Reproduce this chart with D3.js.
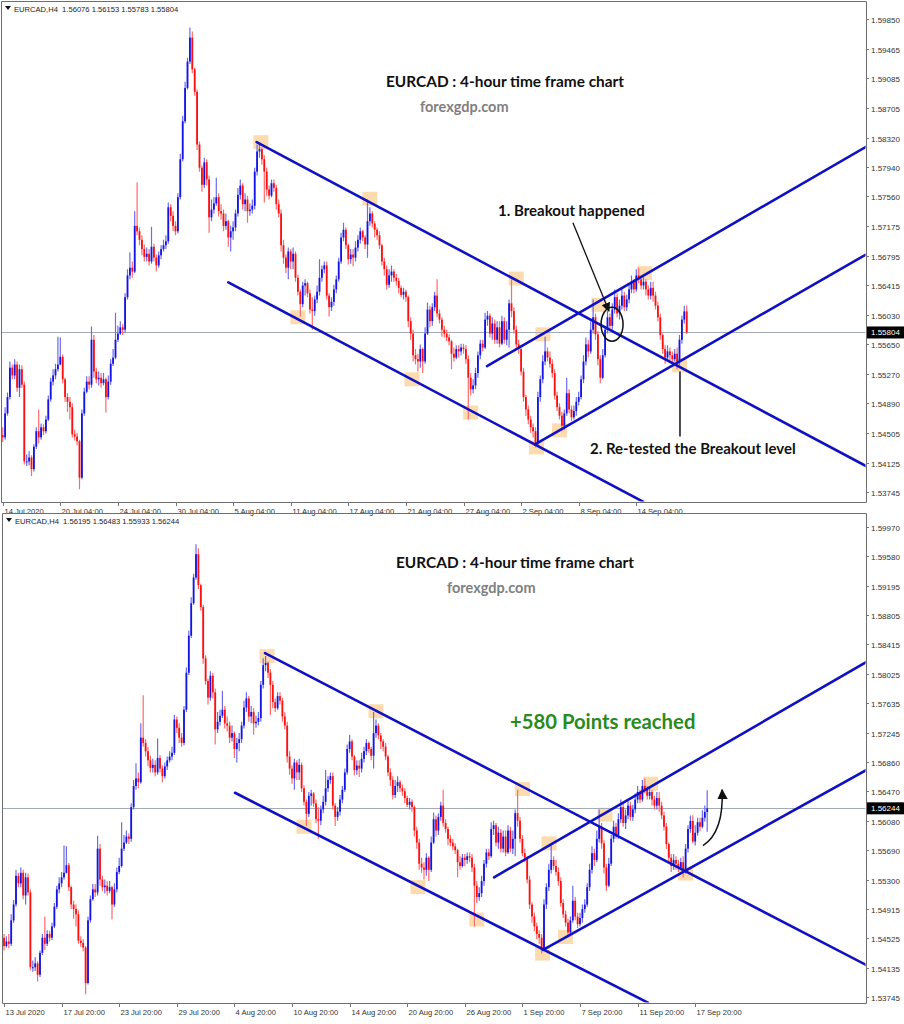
<!DOCTYPE html>
<html><head><meta charset="utf-8">
<script src="https://cdn.jsdelivr.net/npm/d3@7"></script>
<style>body{margin:0;background:#fff;} svg{display:block;}</style>
</head><body>
<svg id="c" width="904" height="1024"></svg>
<script>
// ---------- DATA (EURCAD H4, bar 0 = 13 Jul 2020 20:00) ----------
const firstOpen = 1.5453;
const closes = [
1.5442,1.5448,1.5445,1.5476,1.5497,1.5535,1.5525,1.5539,1.5509,1.5533,
1.5513,1.5414,1.5414,1.5419,1.5404,1.5433,1.5453,1.5445,1.5458,1.5453,
1.5468,1.5494,1.5517,1.5525,1.5533,1.5539,1.5549,1.5520,1.5497,1.5491,
1.5484,1.5449,1.5446,1.5440,1.5393,1.5476,1.5504,1.5517,1.5513,1.5571,
1.5530,1.5520,1.5522,1.5515,1.5520,1.5497,1.5517,1.5540,1.5548,1.5571,
1.5579,1.5587,1.5584,1.5626,1.5654,1.5664,1.5659,1.5718,1.5711,1.5700,
1.5688,1.5678,1.5682,1.5672,1.5691,1.5677,1.5667,1.5680,1.5688,1.5693,
1.5698,1.5742,1.5731,1.5718,1.5711,1.5755,1.5804,1.5853,1.5896,1.5930,
1.5961,1.5920,1.5891,1.5823,1.5793,1.5771,1.5800,1.5778,1.5729,1.5739,
1.5747,1.5755,1.5737,1.5734,1.5718,1.5724,1.5703,1.5711,1.5716,1.5734,
1.5758,1.5770,1.5746,1.5752,1.5737,1.5739,1.5744,1.5788,1.5814,1.5817,
1.5804,1.5788,1.5765,1.5757,1.5773,1.5767,1.5746,1.5734,1.5693,1.5677,
1.5664,1.5685,1.5672,1.5682,1.5651,1.5633,1.5617,1.5641,1.5644,1.5631,
1.5610,1.5608,1.5623,1.5633,1.5651,1.5662,1.5667,1.5628,1.5613,1.5620,
1.5636,1.5649,1.5672,1.5703,1.5713,1.5693,1.5675,1.5681,1.5677,1.5690,
1.5700,1.5711,1.5703,1.5694,1.5724,1.5734,1.5721,1.5713,1.5706,1.5693,
1.5672,1.5662,1.5642,1.5654,1.5659,1.5651,1.5647,1.5638,1.5629,1.5633,
1.5626,1.5595,1.5579,1.5551,1.5546,1.5543,1.5559,1.5543,1.5579,1.5610,
1.5595,1.5613,1.5628,1.5605,1.5597,1.5584,1.5579,1.5574,1.5569,1.5553,
1.5548,1.5559,1.5556,1.5561,1.5559,1.5546,1.5522,1.5507,1.5512,1.5528,
1.5551,1.5566,1.5561,1.5597,1.5602,1.5579,1.5592,1.5571,1.5587,1.5566,
1.5595,1.5571,1.5584,1.5618,1.5608,1.5584,1.5565,1.5559,1.5530,1.5497,
1.5481,1.5468,1.5458,1.5453,1.5437,1.5497,1.5520,1.5543,1.5556,1.5548,
1.5540,1.5528,1.5499,1.5484,1.5473,1.5460,1.5476,1.5502,1.5481,1.5471,
1.5479,1.5491,1.5497,1.5520,1.5543,1.5565,1.5556,1.5584,1.5600,1.5578,
1.5546,1.5522,1.5551,1.5584,1.5600,1.5589,1.5610,1.5626,1.5605,1.5615,
1.5628,1.5613,1.5623,1.5636,1.5646,1.5636,1.5654,1.5649,1.5641,1.5646,
1.5636,1.5628,1.5638,1.5628,1.5615,1.5600,1.5577,1.5559,1.5548,1.5556,
1.5551,1.5546,1.5553,1.5543,1.5571,1.5597,1.56076,1.55804,1.5592,1.5606,
1.5600,1.5612,1.56195,1.56244];
const highs = [
1.5458,1.5455,1.5458,1.5484,1.5503,1.5543,1.5539,1.5546,1.5543,1.5539,
1.5538,1.5517,1.5423,1.5427,1.5422,1.5436,1.5458,1.5481,1.5463,1.5462,
1.5473,1.5499,1.5522,1.5533,1.5540,1.5575,1.5574,1.5552,1.5522,1.5502,
1.5497,1.5489,1.5455,1.5451,1.5442,1.5481,1.5509,1.5524,1.5524,1.5588,
1.5577,1.5535,1.5530,1.5528,1.5528,1.5522,1.5525,1.5546,1.5559,1.5606,
1.5589,1.5595,1.5591,1.5631,1.5662,1.5684,1.5672,1.5737,1.5774,1.5716,
1.5706,1.5694,1.5690,1.5688,1.5717,1.5695,1.5681,1.5685,1.5693,1.5700,
1.5706,1.5748,1.5746,1.5737,1.5724,1.5760,1.5811,1.5860,1.5904,1.5935,
1.5974,1.5969,1.5922,1.5894,1.5827,1.5796,1.5806,1.5804,1.5783,1.5752,
1.5755,1.5780,1.5760,1.5746,1.5739,1.5734,1.5726,1.5718,1.5724,1.5739,
1.5767,1.5778,1.5773,1.5760,1.5757,1.5747,1.5752,1.5793,1.5823,1.5826,
1.5819,1.5809,1.5793,1.5770,1.5778,1.5778,1.5771,1.5752,1.5739,1.5700,
1.5681,1.5690,1.5688,1.5690,1.5685,1.5655,1.5636,1.5646,1.5649,1.5646,
1.5636,1.5626,1.5628,1.5641,1.5675,1.5667,1.5672,1.5672,1.5631,1.5626,
1.5642,1.5654,1.5677,1.5709,1.5722,1.5716,1.5695,1.5688,1.5688,1.5698,
1.5706,1.5716,1.5713,1.5706,1.5752,1.5742,1.5737,1.5724,1.5716,1.5711,
1.5695,1.5677,1.5667,1.5662,1.5667,1.5662,1.5656,1.5651,1.5641,1.5638,
1.5636,1.5628,1.5600,1.5584,1.5559,1.5553,1.5565,1.5561,1.5587,1.5619,
1.5615,1.5618,1.5633,1.5649,1.5610,1.5600,1.5589,1.5584,1.5578,1.5571,
1.5561,1.5564,1.5564,1.5566,1.5566,1.5564,1.5551,1.5528,1.5520,1.5535,
1.5556,1.5571,1.5571,1.5606,1.5608,1.5605,1.5600,1.5597,1.5595,1.5595,
1.5602,1.5600,1.5595,1.5623,1.5649,1.5613,1.5589,1.5571,1.5561,1.5535,
1.5500,1.5486,1.5473,1.5463,1.5458,1.5504,1.5525,1.5551,1.5575,1.5561,
1.5556,1.5546,1.5533,1.5504,1.5489,1.5478,1.5481,1.5522,1.5507,1.5486,
1.5486,1.5497,1.5504,1.5525,1.5551,1.5574,1.5571,1.5595,1.5623,1.5605,
1.5582,1.5551,1.5559,1.5589,1.5608,1.5605,1.5618,1.5636,1.5631,1.5623,
1.5636,1.5633,1.5629,1.5644,1.5654,1.5649,1.5662,1.5664,1.5654,1.5654,
1.5649,1.5641,1.5646,1.5646,1.5633,1.5620,1.5605,1.5579,1.5564,1.5564,
1.5561,1.5556,1.5559,1.5561,1.5577,1.5602,1.5615,1.56153,1.5602,1.5612,
1.5612,1.5622,1.5628,1.56483];
const lows = [
1.5436,1.5440,1.5439,1.5442,1.5473,1.5494,1.5520,1.5520,1.5504,1.5497,
1.5509,1.5410,1.5408,1.5409,1.5395,1.5401,1.5430,1.5437,1.5442,1.5448,
1.5450,1.5466,1.5491,1.5512,1.5520,1.5530,1.5538,1.5515,1.5491,1.5478,
1.5468,1.5445,1.5441,1.5435,1.5378,1.5391,1.5473,1.5502,1.5507,1.5509,
1.5522,1.5515,1.5512,1.5509,1.5512,1.5477,1.5494,1.5513,1.5537,1.5546,
1.5568,1.5577,1.5577,1.5580,1.5623,1.5649,1.5651,1.5657,1.5706,1.5693,
1.5680,1.5672,1.5672,1.5667,1.5669,1.5672,1.5659,1.5664,1.5675,1.5685,
1.5688,1.5695,1.5724,1.5711,1.5706,1.5708,1.5752,1.5801,1.5850,1.5894,
1.5927,1.5915,1.5886,1.5816,1.5788,1.5762,1.5767,1.5770,1.5709,1.5724,
1.5734,1.5744,1.5730,1.5726,1.5711,1.5713,1.5691,1.5685,1.5700,1.5711,
1.5730,1.5752,1.5739,1.5737,1.5722,1.5731,1.5734,1.5739,1.5783,1.5806,
1.5797,1.5748,1.5757,1.5752,1.5755,1.5762,1.5739,1.5729,1.5685,1.5669,
1.5657,1.5649,1.5662,1.5662,1.5646,1.5628,1.5601,1.5613,1.5628,1.5626,
1.5605,1.5584,1.5602,1.5618,1.5628,1.5646,1.5657,1.5623,1.5601,1.5608,
1.5615,1.5631,1.5646,1.5669,1.5698,1.5688,1.5668,1.5669,1.5666,1.5672,
1.5685,1.5695,1.5698,1.5688,1.5677,1.5718,1.5716,1.5703,1.5700,1.5688,
1.5667,1.5654,1.5636,1.5638,1.5646,1.5646,1.5641,1.5631,1.5626,1.5623,
1.5620,1.5587,1.5571,1.5543,1.5539,1.5530,1.5535,1.5528,1.5540,1.5577,
1.5587,1.5589,1.5608,1.5600,1.5592,1.5575,1.5574,1.5569,1.5564,1.5533,
1.5543,1.5546,1.5548,1.5551,1.5553,1.5540,1.5468,1.5499,1.5502,1.5507,
1.5522,1.5546,1.5556,1.5559,1.5589,1.5574,1.5571,1.5566,1.5566,1.5561,
1.5564,1.5566,1.5564,1.5561,1.5600,1.5579,1.5561,1.5553,1.5525,1.5491,
1.5473,1.5462,1.5451,1.5445,1.5432,1.5435,1.5491,1.5515,1.5538,1.5543,
1.5535,1.5522,1.5494,1.5479,1.5468,1.5453,1.5455,1.5473,1.5476,1.5466,
1.5468,1.5473,1.5486,1.5494,1.5515,1.5538,1.5548,1.5553,1.5579,1.5571,
1.5538,1.5515,1.5520,1.5548,1.5579,1.5584,1.5584,1.5605,1.5600,1.5597,
1.5610,1.5608,1.5608,1.5618,1.5631,1.5631,1.5633,1.5644,1.5636,1.5636,
1.5628,1.5623,1.5623,1.5620,1.5610,1.5595,1.5571,1.5553,1.5540,1.5543,
1.5543,1.5540,1.5543,1.5533,1.5538,1.5566,1.5592,1.55783,1.5575,1.5588,
1.5594,1.5598,1.5607,1.55933];

const topPriceTicks = [1.59850,1.59465,1.59085,1.58705,1.58320,1.57940,1.57560,1.57175,1.56795,1.56415,1.56030,1.55650,1.55270,1.54890,1.54505,1.54125,1.53745];
const bottomPriceTicks = [1.59970,1.59580,1.59195,1.58805,1.58415,1.58025,1.57635,1.57245,1.56860,1.56470,1.56080,1.55690,1.55300,1.54915,1.54525,1.54135,1.53745];
const topDateLabels = ["14 Jul 2020","20 Jul 04:00","24 Jul 04:00","30 Jul 04:00","5 Aug 04:00","11 Aug 04:00","17 Aug 04:00","21 Aug 04:00","27 Aug 04:00","2 Sep 04:00","8 Sep 04:00","14 Sep 04:00"];
const topDateBars = [2,26,50,74,98,122,146,170,194,218,242,266];
const bottomDateLabels = ["13 Jul 2020","17 Jul 20:00","23 Jul 20:00","29 Jul 20:00","4 Aug 20:00","10 Aug 20:00","14 Aug 20:00","20 Aug 20:00","26 Aug 20:00","1 Sep 20:00","7 Sep 20:00","11 Sep 20:00","17 Sep 20:00"];
const bottomDateBars = [0,24,48,72,96,120,144,168,192,216,240,264,288];

// trend lines: [bar1, price1, bar2, price2]
const topLines = [[107.8,1.5826,361.7,1.5408],[96.0,1.5645,268.8,1.5362],[203.8,1.5537,361.7,1.5820],[223.8,1.5436,361.7,1.5681]];
const bottomLines = [[108.75,1.5830,359.2,1.5417],[96.25,1.5645,268.3,1.5367],[204.2,1.5533,359.2,1.5818],[224.6,1.5437,359.2,1.5675]];
// highlighted touch points [bar, price]
const touchPoints = [[109.6,1.5826],[125.0,1.5600],[155.0,1.5753],[172.5,1.5520],[197.0,1.5477],[216.0,1.5650],[227.1,1.5578],[224.4,1.5432],[234.0,1.5454],[250.4,1.5616],[269.4,1.5657],[284.0,1.5538]];

// ---------- DRAW ----------
const svg = d3.select('#c');
const defs = svg.append('defs');
defs.append('marker').attr('id','ah').attr('viewBox','0 0 10 10').attr('refX',9).attr('refY',5)
  .attr('markerWidth',7).attr('markerHeight',7).attr('orient','auto-start-reverse')
  .append('path').attr('d','M0,0 L10,5 L0,10 z').attr('fill','#111');

const panels = [
  {id:'top', x0:1, y0:1, x1:866, y1:502, kFrom:2, kTo:287,
   x:d3.scaleLinear().domain([0,100]).range([-2.1,237.9]),
   y:d3.scaleLinear().domain([1.59850,1.53745]).range([19,492]),
   priceTicks:topPriceTicks, dateLabels:topDateLabels, dateBars:topDateBars, lines:topLines,
   header:'EURCAD,H4  1.56076 1.56153 1.55783 1.55804', last:1.55804},
  {id:'bot', x0:2, y0:513, x1:866, y1:1003, kFrom:0, kTo:293,
   x:d3.scaleLinear().domain([0,100]).range([4,244]),
   y:d3.scaleLinear().domain([1.59970,1.53745]).range([527,997]),
   priceTicks:bottomPriceTicks, dateLabels:bottomDateLabels, dateBars:bottomDateBars, lines:bottomLines,
   header:'EURCAD,H4  1.56195 1.56483 1.55933 1.56244', last:1.56244}
];

const fmt = d3.format('.5f');
const axisFont = 'Liberation Sans, Arial, sans-serif';
const noteFont = 'Lato, Open Sans, sans-serif';

panels.forEach(P => {
  const g = svg.append('g');
  defs.append('clipPath').attr('id','clip-'+P.id).append('rect')
    .attr('x',P.x0+0.5).attr('y',P.y0+0.5).attr('width',P.x1-P.x0-1).attr('height',P.y1-P.y0-1);
  const plot = g.append('g').attr('clip-path','url(#clip-'+P.id+')');

  // touch highlights
  plot.selectAll('rect.tp').data(touchPoints).join('rect').attr('class','tp')
    .attr('x',d=>P.x(d[0])-7.5).attr('y',d=>P.y(d[1])-7).attr('width',15).attr('height',14)
    .attr('fill','#fbd29b').attr('opacity',0.8);

  // current price line
  plot.append('line').attr('x1',P.x0).attr('x2',P.x1).attr('y1',Math.round(P.y(P.last))+0.5).attr('y2',Math.round(P.y(P.last))+0.5)
    .attr('stroke','#a3abb8').attr('stroke-width',1);

  // candles
  const bars = d3.range(P.kFrom, P.kTo+1).map(k => {
    const o = k===0 ? firstOpen : closes[k-1], c = closes[k];
    return {k, o, c, h:Math.max(highs[k],o,c), l:Math.min(lows[k],o,c)};
  });
  const cg = plot.append('g');
  cg.selectAll('line').data(bars).join('line')
    .attr('x1',d=>P.x(d.k)).attr('x2',d=>P.x(d.k))
    .attr('y1',d=>P.y(d.h)).attr('y2',d=>P.y(d.l))
    .attr('stroke',d=>d.c>=d.o?'#6b6bf0':'#ff6a6a').attr('stroke-width',1.2);
  cg.selectAll('rect').data(bars).join('rect')
    .attr('x',d=>P.x(d.k)-0.9).attr('width',1.8)
    .attr('y',d=>P.y(Math.max(d.o,d.c)))
    .attr('height',d=>Math.max(1,Math.abs(P.y(d.o)-P.y(d.c))))
    .attr('fill',d=>d.c>=d.o?'#1414e6':'#ff1010');

  // trend lines
  plot.selectAll('line.tl').data(P.lines).join('line').attr('class','tl')
    .attr('x1',d=>P.x(d[0])).attr('y1',d=>P.y(d[1])).attr('x2',d=>P.x(d[2])).attr('y2',d=>P.y(d[3]))
    .attr('stroke','#1111c4').attr('stroke-width',2.6).attr('stroke-linecap','round');

  // frame
  g.append('path').attr('d',`M${P.x0+0.5},${P.y0+0.5}H${P.x1+0.5}V${P.y1+0.5}H${P.x0+0.5}Z`)
    .attr('fill','none').attr('stroke','#6e6e6e').attr('stroke-width',1);

  // price axis
  const pa = g.append('g');
  P.priceTicks.forEach(t => {
    const yy = Math.round(P.y(t))+0.5;
    pa.append('line').attr('x1',P.x1).attr('x2',P.x1+3).attr('y1',yy).attr('y2',yy).attr('stroke','#777');
    pa.append('text').attr('x',P.x1+5).attr('y',yy+3).text(fmt(t))
      .attr('font-family',axisFont).attr('font-size',8).attr('fill','#333');
  });
  const ly = P.y(P.last);
  pa.append('rect').attr('x',P.x1+1).attr('y',ly-6).attr('width',37).attr('height',12).attr('fill','#000');
  pa.append('text').attr('x',P.x1+5).attr('y',ly+3).text(fmt(P.last))
    .attr('font-family',axisFont).attr('font-size',8).attr('fill','#fff');

  // date axis
  const da = g.append('g');
  P.dateLabels.forEach((lab,i) => {
    const xx = Math.round(P.x(P.dateBars[i]))+0.5;
    da.append('line').attr('x1',xx).attr('x2',xx).attr('y1',P.y1).attr('y2',P.y1+4).attr('stroke','#777');
    da.append('text').attr('x',xx+1).attr('y',P.y1+12).text(lab)
      .attr('font-family',axisFont).attr('font-size',7.6).attr('fill','#333');
  });

  // header
  g.append('path').attr('d',`M${P.x0+4},${P.y0+5}h6l-3,4z`).attr('fill','#111');
  g.append('text').attr('x',P.x0+13).attr('y',P.y0+11).text(P.header)
    .attr('font-family',axisFont).attr('font-size',7.6).attr('fill','#222').attr('xml:space','preserve').style('white-space','pre');
});

// ---------- ANNOTATIONS ----------
const T = panels[0], B = panels[1];
function title(x, y1, x2, y2){
  svg.append('text').attr('x',x).attr('y',y1).text('EURCAD : 4-hour time frame chart')
    .attr('font-family',noteFont).attr('font-weight','bold').attr('font-size',15.4).attr('fill','#111');
  svg.append('text').attr('x',x2).attr('y',y2).text('forexgdp.com')
    .attr('font-family',noteFont).attr('font-weight','bold').attr('font-size',14.5).attr('fill','#808080');
}
title(386, 87, 420, 112);
title(396, 568, 447, 593);

// top notes
svg.append('text').attr('x',T.x(208.4)).attr('y',T.y(1.5731)).text('1. Breakout happened')
  .attr('font-family',noteFont).attr('font-weight','bold').attr('font-size',15).attr('fill','#111');
svg.append('line').attr('x1',T.x(239.6)).attr('y1',T.y(1.5722)).attr('x2',T.x(254.6)).attr('y2',T.y(1.5608))
  .attr('stroke','#111').attr('stroke-width',1.3).attr('marker-end','url(#ah)');
svg.append('ellipse').attr('cx',T.x(255.9)).attr('cy',T.y(1.5591)).attr('rx',11).attr('ry',17)
  .attr('fill','none').attr('stroke','#111').attr('stroke-width',1.5);
svg.append('line').attr('x1',T.x(284.2)).attr('y1',T.y(1.5530)).attr('x2',T.x(284.2)).attr('y2',T.y(1.5446))
  .attr('stroke','#111').attr('stroke-width',1.5);
svg.append('text').attr('x',T.x(246.7)).attr('y',T.y(1.5423)).text('2. Re-tested the Breakout level')
  .attr('font-family',noteFont).attr('font-weight','bold').attr('font-size',15).attr('fill','#111');

// bottom notes
svg.append('text').attr('x',B.x(210.8)).attr('y',B.y(1.5730)).text('+580 Points reached')
  .attr('font-family',noteFont).attr('font-weight','bold').attr('font-size',20.3).attr('fill','#2a8a1e');
svg.append('path')
  .attr('d',`M${B.x(291.25)},${B.y(1.5575)} Q${B.x(300)},${B.y(1.5593)} ${B.x(299.2)},${B.y(1.5649)}`)
  .attr('fill','none').attr('stroke','#111').attr('stroke-width',1.5).attr('marker-end','url(#ah)');
</script>
</body></html>
